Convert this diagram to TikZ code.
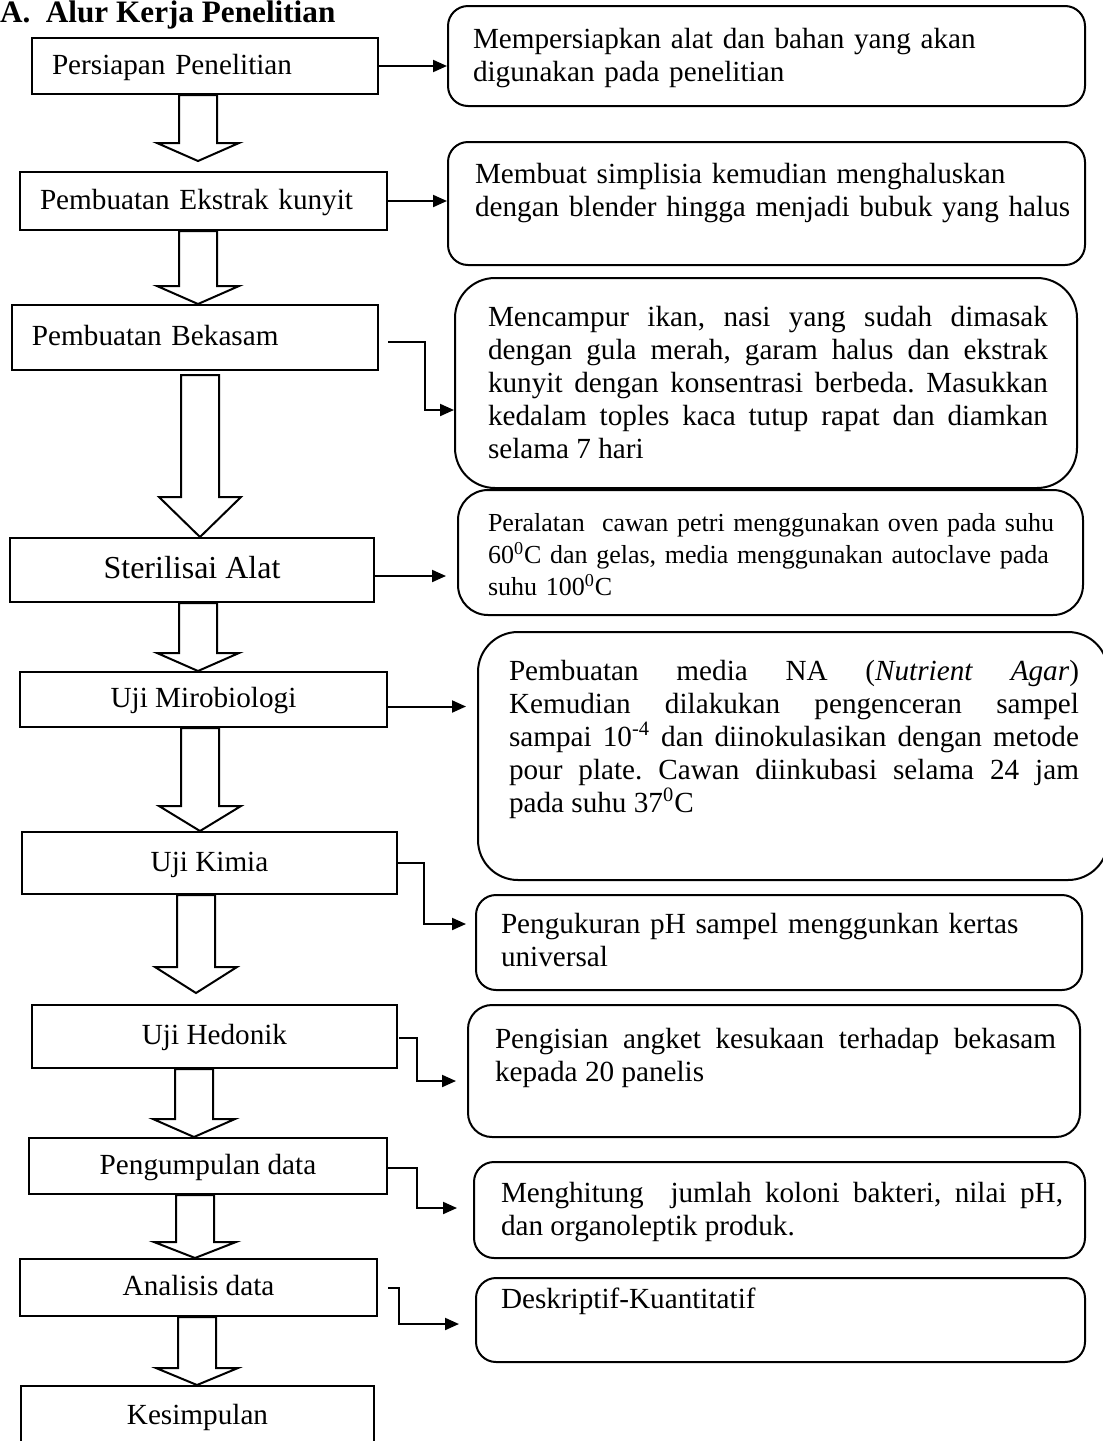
\documentclass[tikz,border=0pt]{standalone}
\usepackage{fontspec}
\setmainfont{Liberation Serif}
\usetikzlibrary{calc, positioning, arrows.meta}
\frenchspacing

\begin{document}
\begin{tikzpicture}[x=0.5pt, y=-0.5pt, >={Triangle[length=7pt, width=6pt]}, line width=1pt,
  every node/.style={font=\fontsize{14.6}{16.5}\selectfont}]
  \tikzset{
    lbox/.style={draw, rectangle, inner ysep=0pt, inner xsep=10pt, text height=10pt, text depth=2pt, align=center},
    rbox/.style={draw, rounded corners=#1, inner sep=0pt},
    txt/.style={anchor=base west, inner sep=0pt, text width=#1, align=left},
    jtxt/.style={txt=#1, align=justify},
    hollow/.style={draw, fill=white, line join=miter, to path={let \p1=(\tikztostart), \p2=(\tikztotarget) in
      (\x1-9.5pt,\y1) -- (\x1-9.5pt,\y2+#1) -- (\x1-20.5pt,\y2+#1) -- (\x2,\y2)
      -- (\x1+20.5pt,\y2+#1) -- (\x1+9.5pt,\y2+#1) -- (\x1+9.5pt,\y1) -- cycle}}
  }
  \path[use as bounding box, fill=white] (0,0) rectangle (1103,1441);

  \node[anchor=base west, inner sep=0pt, font=\bfseries\fontsize{15.6}{18}\selectfont] (title) at (-1,22) {A.\ \ Alur Kerja Penelitian};

  % steps on the left
  \node[lbox, minimum width=173pt, minimum height=28pt, text width=153pt, align=left] (b1) at (205,66) {Persiapan Penelitian};
  \node[lbox, minimum width=183.5pt, minimum height=29pt, text width=163.5pt, align=left] (b2) at (203.5,201) {Pembuatan Ekstrak kunyit};
  \node[lbox, minimum width=183pt, minimum height=32.5pt, text width=163pt, align=left] (b3) at (195,337.5) {Pembuatan Bekasam};
  \node[lbox, minimum width=182pt, minimum height=32pt, font=\fontsize{16}{18}\selectfont] (b4) at (192,570) {Sterilisai Alat};
  \node[lbox, minimum width=183.5pt, minimum height=27.5pt] (b5) at (203.5,699.5) {Uji Mirobiologi};
  \node[lbox, minimum width=187.5pt, minimum height=31pt] (b6) at (209.5,863) {Uji Kimia};
  \node[lbox, minimum width=182.5pt, minimum height=31.5pt] (b7) at (214.5,1036.5) {Uji Hedonik};
  \node[lbox, minimum width=179pt, minimum height=28pt] (b8) at (208,1166) {Pengumpulan data};
  \node[lbox, minimum width=178.5pt, minimum height=28.5pt] (b9) at (198.5,1287.5) {Analisis data};
  \node[lbox, minimum width=176.5pt, minimum height=30pt] (b10) at (197.5,1416) {Kesimpulan};

  % descriptions on the right
  \node[rbox=10pt, minimum width=318.5pt, minimum height=50pt] (r1) at (766.5,56) {};
  \node[rbox=10pt, minimum width=318.5pt, minimum height=61.5pt] (r2) at (766.5,203.5) {};
  \node[rbox=20pt, minimum width=311pt, minimum height=105pt] (r3) at (766,383) {};
  \node[rbox=15pt, minimum width=312.5pt, minimum height=62.5pt] (r4) at (770.5,552.5) {};
  \node[rbox=20pt, minimum width=315pt, minimum height=124pt] (r5) at (793,756) {};
  \node[rbox=10pt, minimum width=303pt, minimum height=47.5pt] (r6) at (779,942.5) {};
  \node[rbox=12pt, minimum width=306pt, minimum height=66pt] (r7) at (774,1071) {};
  \node[rbox=10pt, minimum width=305.5pt, minimum height=48pt] (r8) at (779.5,1210) {};
  \node[rbox=10pt, minimum width=304.5pt, minimum height=42pt] (r9) at (780.5,1320) {};

  \node[txt=300pt] (t1) at (472,48) {Mempersiapkan alat dan bahan yang akan\\digunakan pada penelitian};
  \node[txt=300pt] (t2) at (474,183) {Membuat simplisia kemudian menghaluskan\\dengan blender hingga menjadi bubuk yang halus};
  \node[jtxt=280pt] (t3) at (487,326) {Mencampur ikan, nasi yang sudah dimasak\linebreak
    dengan gula merah, garam halus dan ekstrak\linebreak
    kunyit dengan konsentrasi berbeda. Masukkan\linebreak
    kedalam toples kaca tutup rapat dan diamkan\linebreak
    selama 7 hari};
  \node[txt=300pt, font=\fontsize{13}{16}\selectfont] (t4) at (487,531) {Peralatan\ \ cawan petri menggunakan oven pada suhu\\
    60\textsuperscript{0}C dan gelas, media menggunakan autoclave pada\\
    suhu 100\textsuperscript{0}C};
  \node[jtxt=285pt] (t5) at (508,680) {Pembuatan media NA (\textit{Nutrient} \textit{Agar})\linebreak
    Kemudian dilakukan pengenceran sampel\linebreak
    sampai 10\textsuperscript{-4} dan diinokulasikan dengan metode\linebreak
    pour plate. Cawan diinkubasi selama 24 jam\linebreak
    pada suhu 37\textsuperscript{0}C};
  \node[txt=300pt] (t6) at (500,933) {Pengukuran pH sampel menggunkan kertas\\universal};
  \node[jtxt=280.5pt] (t7) at (494,1048) {Pengisian angket kesukaan terhadap bekasam\linebreak kepada 20 panelis};
  \node[jtxt=281pt] (t8) at (500,1202) {Menghitung\ \ jumlah koloni bakteri, nilai pH,\linebreak dan organoleptik produk.};
  \node[txt=300pt] (t9) at (500,1308) {Deskriptif-Kuantitatif};

  % hollow arrows between steps
  \draw[hollow=9pt] (b1.south -| 198,0) to ($(b2.north -| 198,0)+(0,-10)$);
  \draw[hollow=9pt] (b2.south -| 198,0) to (b3.north -| 198,0);
  \draw[hollow=20pt] ($(b3.south -| 200,0)+(0,4)$) to (b4.north -| 200,0);
  \draw[hollow=9pt] (b4.south -| 198,0) to (b5.north -| 198,0);
  \draw[hollow=12.5pt] (b5.south -| 200,0) to (b6.north -| 200,0);
  \draw[hollow=13pt] (b6.south -| 196,0) to ($(b7.north -| 196,0)+(0,-11)$);
  \draw[hollow=9pt] (b7.south -| 194,0) to (b8.north -| 194,0);
  \draw[hollow=8pt] (b8.south -| 195,0) to (b9.north -| 195,0);
  \draw[hollow=8.5pt] (b9.south -| 197,0) to (b10.north -| 197,0);

  % links to the descriptions
  \draw[->] (b1.east) -- (b1.east -| r1.west);
  \draw[->] (b2.east) -- (b2.east -| r2.west);
  \draw[->] ($(b3.east)+(9,4.5)$) -- ++(37,0) |- ($(r3.west)+(0,27)$);
  \draw[->] ($(b4.east)+(0,6)$) -- ($(b4.east -| r4.west)+(-11,6)$);
  \draw[->] ($(b5.east)+(0,7)$) -- ($(b5.east -| r5.west)+(-11,7)$);
  \draw[->] (b6.east) -- ++(26,0) |- ($(r6.west)+(-9,-18.5)$);
  \draw[->] ($(b7.east)+(1,1)$) -- ++(18,0) |- ($(r7.west)+(-11,10)$);
  \draw[->] ($(b8.east)+(0,2)$) -- ++(29,0) |- ($(r8.west)+(-16,-2)$);
  \draw[->] ($(b9.east)+(10,0.5)$) -- ++(11,0) |- ($(r9.west)+(-16,4)$);
\end{tikzpicture}
\end{document}
